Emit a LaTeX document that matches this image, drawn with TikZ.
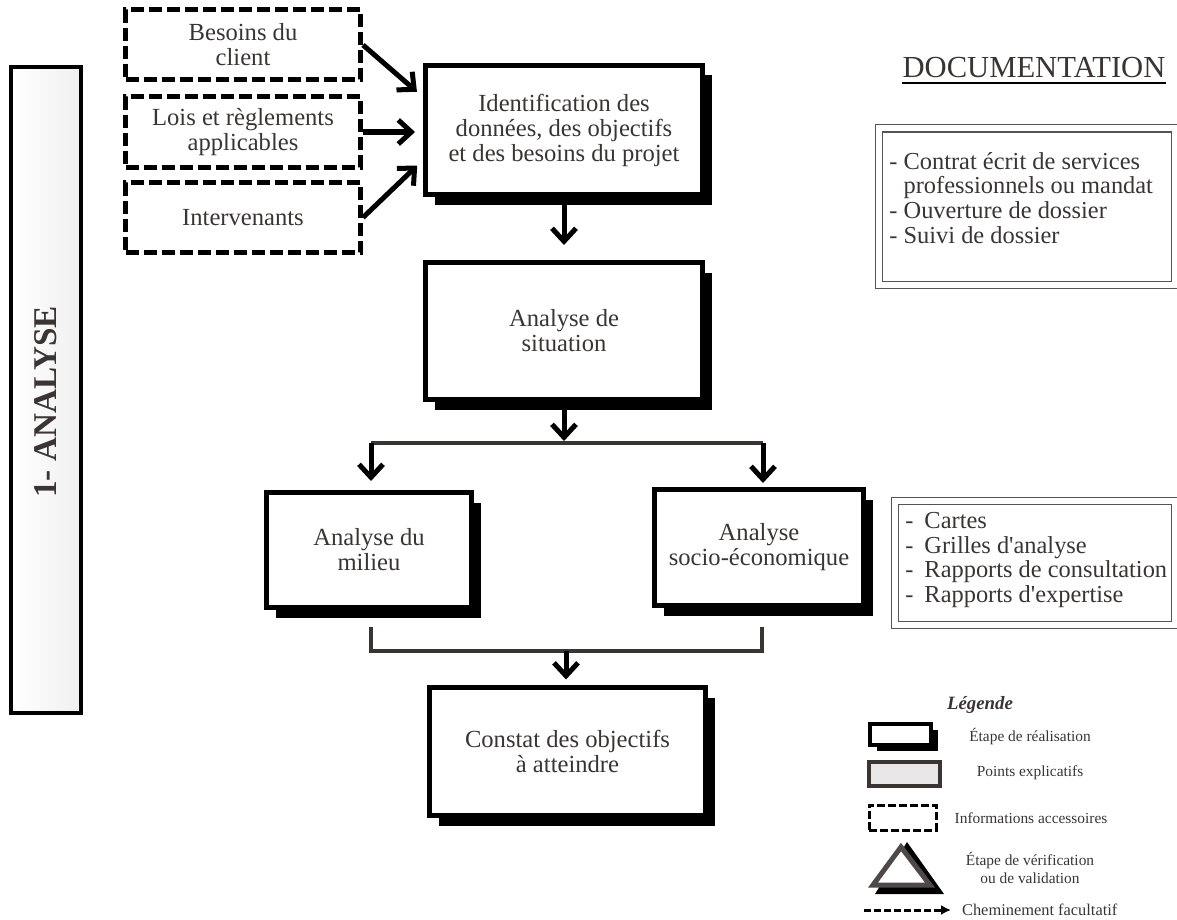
\documentclass[tikz,border=0pt]{standalone}
\usepackage{fontspec}
\setmainfont{Liberation Serif}
\newfontfamily\plainserif{Liberation Serif}
\usetikzlibrary{arrows.meta, shadows}

\definecolor{ink}{RGB}{58,53,51}
\definecolor{legfill}{RGB}{232,230,230}
\newcommand{\apos}{{\plainserif'}}

\tikzset{
  texte/.style={text=ink, align=center, font=\fontsize{12.3}{12.5}\selectfont},
  ombre/.style={drop shadow={shadow xshift=4.75pt, shadow yshift=-5pt, fill=black, opacity=1}},
  etape/.style={draw=black, line width=2.5pt, fill=white, texte, ombre},
  infobox/.style={draw=black, line width=2.5pt, dash pattern=on 6.5pt off 2.5pt, fill=white, texte, minimum width=117.5pt, minimum height=35pt},
  fleche/.style={draw=black, line width=2.5pt, -{Straight Barb[length=6.5pt,width=12pt]}},
  liaison/.style={draw=ink, line width=2pt},
  docbox/.style={draw=ink!85, line width=0.5pt, double, double distance=3pt},
  doctext/.style={text=ink, align=left, inner sep=0pt, font=\fontsize{12.2}{12.3}\selectfont},
  legtext/.style={text=ink, align=center, font=\fontsize{7.7}{9}\selectfont}
}

\begin{document}
\begin{tikzpicture}[x=0.5pt, y=-0.5pt]
\useasboundingbox (0,0) rectangle (1177,920);
\node [draw=black, line width=2pt, left color=white, right color=gray!12, minimum width=35pt, minimum height=323pt] (phaseBar) at (46,390) {};
\node [rotate=90, text=ink, font=\bfseries\fontsize{16.6}{20}\selectfont] (phaseLabel) at (46,402) {1- ANALYSE};
\node [infobox] (besoins) at (243,45) {Besoins du\\client};
\node [infobox] (lois) at (243,132) {Lois et règlements\\applicables};
\node [infobox] (interv) at (243,217.5) {Intervenants};
\node [etape, minimum width=138.5pt, minimum height=64.5pt] (ident) at (564,130) {Identification des\\données, des objectifs\\et des besoins du projet};
\node [etape, minimum width=138.5pt, minimum height=68.5pt] (situation) at (564,331) {Analyse de\\situation};
\node [etape, minimum width=102.5pt, minimum height=57.5pt] (milieu) at (369,550) {Analyse du\\milieu};
\node [etape, minimum width=104.5pt, minimum height=58pt] (socio) at (759,547.5) {Analyse\\socio-économique};
\node [etape, minimum width=138pt, minimum height=64pt] (constat) at (567.5,751.5) {Constat des objectifs\\à atteindre};
\draw [fleche, shorten >=4pt] (besoins.east) -- ([yshift=16.5pt]ident.west);
\draw [fleche, shorten >=4pt] (lois.east) -- (lois.east -| ident.west);
\draw [fleche, shorten >=4pt] (interv.east) -- ([yshift=-15pt]ident.west);
\draw [fleche, shorten >=7.5pt] (ident.south) -- (situation.north);
\coordinate (fork) at (565,443);
\coordinate (forkL) at (371,443);
\coordinate (forkR) at (763,443);
\draw [liaison] (forkL) -- (forkR);
\draw [fleche, shorten >=1pt] (situation.south) -- (situation.south |- fork);
\draw [fleche, shorten >=4.5pt] (forkL) -- (forkL |- milieu.north);
\draw [fleche, shorten >=2pt] (forkR) -- (forkR |- socio.north);
\coordinate (join) at (566,651);
\coordinate (joinL) at (371,651);
\coordinate (joinR) at (762,651);
\draw [liaison] ([yshift=12pt]joinL) -- (joinL) -- (joinR) -- ([yshift=12pt]joinR);
\draw [fleche, shorten >=2.75pt] (join) -- (join |- constat.north);
\node [text=ink, inner sep=0pt, anchor=base, font=\fontsize{15.3}{18}\selectfont] (docTitle) at (1034,78) {DOCUMENTATION};
\draw [black, line width=1pt] ([yshift=-2.5pt]docTitle.base west) -- ([yshift=-2.5pt]docTitle.base east);
\node [docbox, minimum width=148pt, minimum height=78.25pt] (docA) at (1026.5,206.75) {};
\node [doctext, anchor=north west] (docAList) at (889,152) {- Contrat écrit de services\\\hphantom{-} professionnels ou mandat\\- Ouverture de dossier\\- Suivi de dossier};
\node [docbox, minimum width=140pt, minimum height=62pt] (docB) at (1034.5,562.5) {};
\node [doctext, anchor=north west] (docBList) at (905,512) {-\hspace{0.45em}Cartes\\-\hspace{0.45em}Grilles d\apos analyse\\-\hspace{0.45em}Rapports de consultation\\-\hspace{0.45em}Rapports d\apos expertise};
\node [text=ink, font=\bfseries\itshape\fontsize{9.4}{11}\selectfont] (legTitle) at (980,705) {Légende};
\node [draw=black, fill=white, line width=2pt, minimum width=30.5pt, minimum height=10.5pt, drop shadow={shadow xshift=3.5pt, shadow yshift=-3pt, fill=black, opacity=1}] (legReal) at (900.5,734.5) {};
\node [draw=ink, fill=legfill, line width=2pt, minimum width=35.5pt, minimum height=12pt] (legPoint) at (904.5,774) {};
\node [draw=black, fill=white, line width=1.5pt, dash pattern=on 4pt off 1.5pt, minimum width=33.5pt, minimum height=12.5pt] (legInfo) at (902.5,817.5) {};
\coordinate (legTri) at (901,847);
\fill [black] (907,842) -- (944,894) -- (875,894) -- cycle;
\draw [ink!90, line width=2.5pt, fill=white] (legTri) -- (930,885) -- (873,885) -- cycle;
\coordinate (legFrom) at (864,910);
\coordinate (legTo) at (951,910);
\draw [black, line width=1.5pt, dash pattern=on 3.5pt off 1.5pt, -{Latex[length=5pt,width=5pt]}] (legFrom) -- (legTo);
\node [legtext] (legRealTxt) at (1030,737) {Étape de réalisation};
\node [legtext] (legPointTxt) at (1030,773) {Points explicatifs};
\node [legtext] (legInfoTxt) at (1031,818) {Informations accessoires};
\node [legtext] (legTriTxt) at (1030,868) {Étape de vérification\\ou de validation};
\node [legtext, anchor=west, font=\fontsize{8.2}{9}\selectfont] (legPathTxt) at (955,910) {Cheminement facultatif};
\end{tikzpicture}
\end{document}
